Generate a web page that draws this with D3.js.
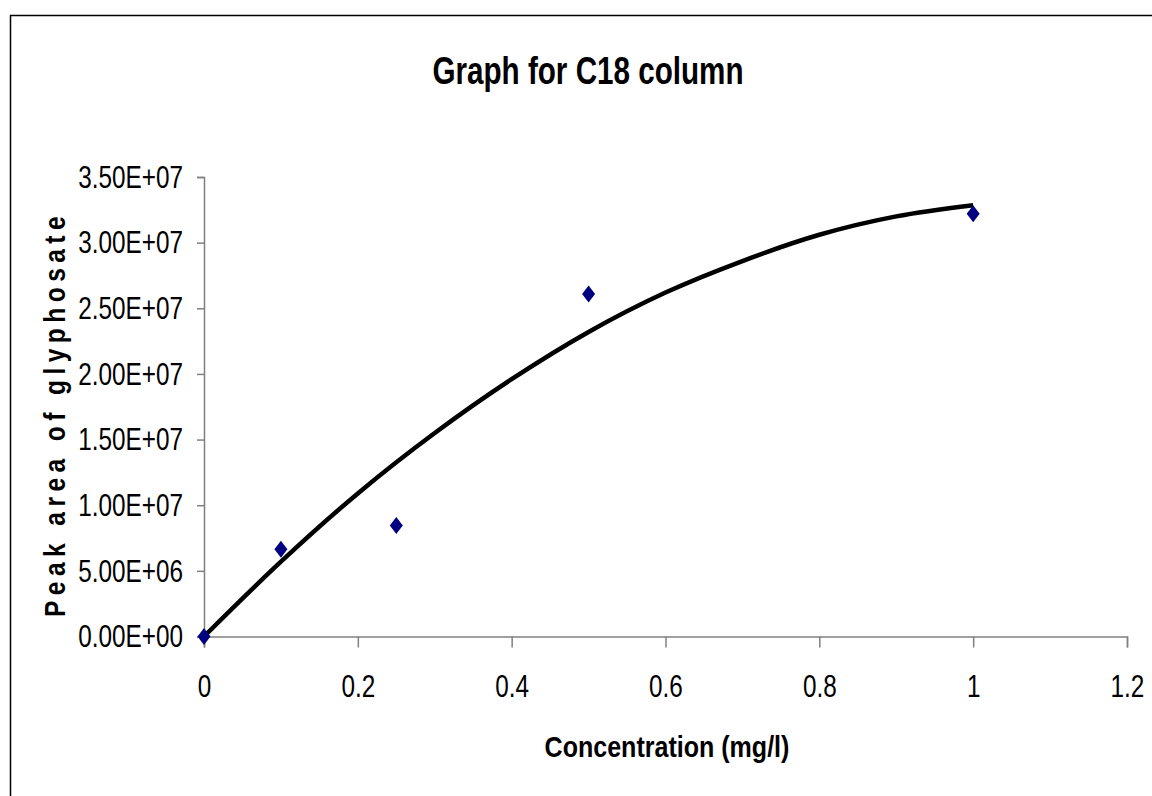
<!DOCTYPE html>
<html>
<head>
<meta charset="utf-8">
<script src="https://cdn.jsdelivr.net/npm/d3@7"></script>
<style>
  html, body { margin: 0; padding: 0; background: #fff; }
  svg { display: block; }
  text { font-family: "Liberation Sans", Arial, sans-serif; }
</style>
</head>
<body>
<svg id="chart" width="1152" height="796"></svg>
<script>
// Measured samples: concentration (mg/l) vs. peak area
const concentration = [0, 0.1, 0.25, 0.5, 1.0];
const peakArea = [0, 6.65e6, 8.46e6, 2.608e7, 3.22e7];

// Second-order trendline, sampled along the concentration range
const trendX = [0, 0.1, 0.2, 0.3, 0.4, 0.5, 0.6, 0.7, 0.8, 0.9, 1.0];
const trendY = [0, 5.7e6, 1.09e7, 1.55e7, 1.96e7, 2.32e7, 2.62e7, 2.86e7, 3.06e7, 3.20e7, 3.285e7];

// Axis ticks
const xTicks = [0, 0.2, 0.4, 0.6, 0.8, 1.0, 1.2];
const xTickLabels = ["0", "0.2", "0.4", "0.6", "0.8", "1", "1.2"];
const yTicks = [0, 5e6, 1e7, 1.5e7, 2e7, 2.5e7, 3e7, 3.5e7];
const yTickLabels = ["0.00E+00", "5.00E+06", "1.00E+07", "1.50E+07", "2.00E+07", "2.50E+07", "3.00E+07", "3.50E+07"];

const titleText = "Graph for C18 column";
const xTitle = "Concentration (mg/l)";
const yTitle = "Peak area of glyphosate";

const svg = d3.select("#chart");

// chart frame
svg.append("rect")
  .attr("x", 10.5).attr("y", 15.5)
  .attr("width", 1200).attr("height", 900)
  .attr("fill", "#fff")
  .attr("stroke", "#000").attr("stroke-width", 1.5);

const x = d3.scaleLinear().domain([0, 1.2]).range([204, 1127]);
const y = d3.scaleLinear().domain([0, 3.5e7]).range([636.5, 177]);

// horizontal squeeze that gives the sans face a narrow look
function squeeze(sel, k) {
  sel.each(function () {
    const t = d3.select(this);
    const ox = +t.attr("x") || 0;
    t.attr("x", ox / k).attr("transform", `scale(${k},1)`);
  });
}

const TICK_FS = 32, TICK_SQ = 0.76;

// y axis
const yAxis = d3.axisLeft(y)
  .tickValues(yTicks)
  .tickSize(7)
  .tickPadding(14)
  .tickFormat((d, i) => yTickLabels[i]);
const gy = svg.append("g").attr("transform", `translate(${x(0)},0)`).call(yAxis);
gy.select(".domain").attr("stroke", "#808080").attr("stroke-width", 1.5);
gy.selectAll(".tick line").attr("stroke", "#808080").attr("stroke-width", 1.5);
gy.selectAll(".tick text")
  .attr("font-size", TICK_FS)
  .attr("font-family", '"Liberation Sans", Arial, sans-serif')
  .attr("fill", "#000")
  .call(squeeze, TICK_SQ);

// x axis
const xAxis = d3.axisBottom(x)
  .tickValues(xTicks)
  .tickSize(11)
  .tickSizeOuter(11)
  .tickPadding(27)
  .tickFormat((d, i) => xTickLabels[i]);
const gx = svg.append("g").attr("transform", `translate(0,${y(0)})`).call(xAxis);
gx.select(".domain").attr("stroke", "#808080").attr("stroke-width", 1.5);
gx.selectAll(".tick line").attr("stroke", "#808080").attr("stroke-width", 1.5);
gx.selectAll(".tick text")
  .attr("font-size", TICK_FS)
  .attr("font-family", '"Liberation Sans", Arial, sans-serif')
  .attr("fill", "#000")
  .call(squeeze, TICK_SQ);

// trendline
const trend = trendX.map((v, i) => [v, trendY[i]]);
svg.append("path")
  .datum(trend)
  .attr("fill", "none")
  .attr("stroke", "#000")
  .attr("stroke-width", 4.5)
  .attr("stroke-linejoin", "round")
  .attr("d", d3.line().x(d => x(d[0])).y(d => y(d[1])).curve(d3.curveCatmullRom));

// data markers (diamonds)
const pts = concentration.map((v, i) => [v, peakArea[i]]);
svg.append("g").selectAll("path")
  .data(pts)
  .join("path")
  .attr("transform", d => `translate(${x(d[0])},${y(d[1])})`)
  .attr("d", "M0,-8.5 L6.5,0 L0,8.5 L-6.5,0 Z")
  .attr("fill", "#000080");

// titles
svg.append("text")
  .attr("transform", "translate(588,84) scale(0.78,1)")
  .attr("text-anchor", "middle")
  .attr("font-size", 38).attr("font-weight", "bold")
  .text(titleText);

svg.append("text")
  .attr("transform", "translate(667,757) scale(0.835,1)")
  .attr("text-anchor", "middle")
  .attr("font-size", 30).attr("font-weight", "bold")
  .text(xTitle);

svg.append("text")
  .attr("transform", "translate(65,414) rotate(-90) scale(0.82,1)")
  .attr("text-anchor", "middle")
  .attr("font-size", 30).attr("font-weight", "bold")
  .attr("letter-spacing", 6.6)
  .text(yTitle);
</script>
</body>
</html>
